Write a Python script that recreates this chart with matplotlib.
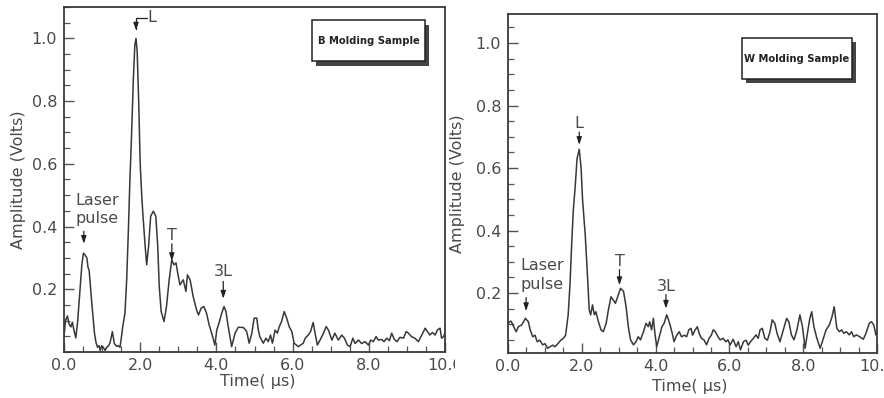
import matplotlib
matplotlib.use("Agg")
import matplotlib.pyplot as plt
from matplotlib.patches import Rectangle
from matplotlib.ticker import MultipleLocator, FormatStrFormatter

# ---------------- data ----------------
b_time = [0.0, 0.04, 0.09, 0.13, 0.18, 0.22, 0.26, 0.31, 0.36, 0.42, 0.47, 0.51, 0.55, 0.6, 0.63,
          0.66, 0.7, 0.73, 0.77, 0.8, 0.84, 0.88, 0.92, 0.95, 0.99, 1.03, 1.08, 1.12, 1.17, 1.21,
          1.27, 1.32, 1.38, 1.43, 1.47, 1.51, 1.54, 1.6, 1.645, 1.69, 1.73, 1.77, 1.82, 1.86, 1.89,
          1.92, 1.96, 2.0, 2.04, 2.07, 2.13, 2.17, 2.22, 2.275, 2.345, 2.41, 2.46, 2.5, 2.55, 2.625,
          2.69, 2.76, 2.83, 2.86, 2.89, 2.94, 3.0, 3.045, 3.1, 3.13, 3.2, 3.24, 3.31, 3.39, 3.48,
          3.53, 3.6, 3.67, 3.74, 3.81, 3.89, 3.96, 4.01, 4.08, 4.14, 4.2, 4.25, 4.31, 4.4, 4.49,
          4.575, 4.71, 4.795, 4.86, 4.93, 4.99, 5.06, 5.1, 5.14, 5.23, 5.3, 5.36, 5.42, 5.47, 5.54,
          5.6, 5.65, 5.71, 5.78, 5.845, 5.91, 5.98, 6.04, 6.15, 6.28, 6.33, 6.41, 6.47, 6.54, 6.59,
          6.65, 6.72, 6.81, 6.88, 6.94, 7.03, 7.11, 7.2, 7.29, 7.36, 7.44, 7.51, 7.58, 7.64, 7.73,
          7.81, 7.9, 7.99, 8.05, 8.12, 8.19, 8.25, 8.34, 8.4, 8.47, 8.54, 8.6, 8.67, 8.74, 8.82,
          8.91, 8.98, 9.04, 9.12, 9.21, 9.3, 9.39, 9.48, 9.54, 9.6, 9.67, 9.74, 9.8, 9.87, 9.91,
          9.96, 10.0]
b_amp = [0.05, 0.10, 0.115, 0.09, 0.08, 0.095, 0.07, 0.045, 0.10, 0.20, 0.28, 0.315, 0.31, 0.30, 0.27,
         0.26, 0.2, 0.155, 0.1, 0.06, 0.03, 0.015, 0.02, 0.005, 0.02, 0.015, 0.005, 0.015, 0.02, 0.03,
         0.065, 0.027, 0.018, 0.02, 0.015, 0.05, 0.08, 0.124, 0.23, 0.39, 0.55, 0.68, 0.87, 0.98, 1.0,
         0.96, 0.8, 0.6, 0.5, 0.44, 0.337, 0.278, 0.337, 0.433, 0.449, 0.433, 0.337, 0.209, 0.129, 0.097,
         0.145, 0.23, 0.294, 0.285, 0.278, 0.284, 0.241, 0.214, 0.225, 0.23, 0.193, 0.246, 0.23, 0.177, 0.134,
         0.118, 0.14, 0.145, 0.124, 0.086, 0.054, 0.022, 0.07, 0.097, 0.124, 0.145, 0.129, 0.081, 0.017, 0.06,
         0.079, 0.078, 0.065, 0.028, 0.06, 0.108, 0.108, 0.07, 0.049, 0.028, 0.044, 0.033, 0.054, 0.028, 0.07,
         0.06, 0.081, 0.097, 0.129, 0.108, 0.081, 0.065, 0.028, 0.017, 0.028, 0.044, 0.054, 0.065, 0.094, 0.06,
         0.022, 0.038, 0.06, 0.081, 0.07, 0.038, 0.06, 0.038, 0.054, 0.044, 0.022, 0.017, 0.044, 0.027, 0.038,
         0.027, 0.033, 0.022, 0.038, 0.033, 0.049, 0.038, 0.04, 0.033, 0.044, 0.036, 0.06, 0.04, 0.033, 0.047,
         0.044, 0.065, 0.06, 0.049, 0.044, 0.033, 0.054, 0.076, 0.065, 0.054, 0.062, 0.054, 0.07, 0.076, 0.044,
         0.049, 0.06]

w_time = [0.0, 0.035, 0.08, 0.13, 0.22, 0.28, 0.37, 0.43, 0.47, 0.55, 0.6, 0.67, 0.73, 0.79, 0.86,
          0.94, 1.0, 1.07, 1.14, 1.21, 1.27, 1.36, 1.43, 1.5, 1.56, 1.63, 1.68, 1.73, 1.77, 1.82,
          1.87, 1.93, 1.98, 2.02, 2.09, 2.15, 2.2, 2.24, 2.29, 2.34, 2.38, 2.45, 2.52, 2.58, 2.66,
          2.72, 2.79, 2.85, 2.91, 2.99, 3.05, 3.13, 3.2, 3.26, 3.32, 3.4, 3.47, 3.53, 3.59, 3.67,
          3.74, 3.8, 3.84, 3.89, 3.94, 3.98, 4.03, 4.1, 4.17, 4.23, 4.3, 4.35, 4.39, 4.44, 4.5,
          4.57, 4.64, 4.7, 4.78, 4.84, 4.9, 4.96, 5.0, 5.07, 5.13, 5.18, 5.24, 5.31, 5.38, 5.45,
          5.51, 5.56, 5.62, 5.69, 5.75, 5.83, 5.9, 5.96, 6.02, 6.1, 6.18, 6.24, 6.3, 6.38, 6.45,
          6.51, 6.57, 6.65, 6.72, 6.78, 6.83, 6.89, 6.96, 7.03, 7.1, 7.16, 7.23, 7.29, 7.37, 7.46,
          7.55, 7.61, 7.68, 7.75, 7.83, 7.91, 7.98, 8.05, 8.12, 8.18, 8.23, 8.29, 8.37, 8.46, 8.53,
          8.62, 8.71, 8.78, 8.84, 8.91, 8.98, 9.04, 9.1, 9.17, 9.25, 9.31, 9.37, 9.44, 9.53, 9.63,
          9.7, 9.79, 9.85, 9.91, 9.97, 10.0]
w_amp = [0.10, 0.108, 0.11, 0.098, 0.076, 0.092, 0.098, 0.11, 0.119, 0.108, 0.082, 0.06, 0.065, 0.044, 0.049,
         0.034, 0.038, 0.023, 0.028, 0.033, 0.028, 0.039, 0.049, 0.055, 0.065, 0.13, 0.23, 0.37, 0.466, 0.54,
         0.63, 0.66, 0.6, 0.498, 0.39, 0.263, 0.146, 0.13, 0.162, 0.13, 0.14, 0.108, 0.082, 0.076, 0.103,
         0.146, 0.188, 0.178, 0.167, 0.194, 0.215, 0.205, 0.156, 0.092, 0.05, 0.034, 0.045, 0.06, 0.05, 0.076,
         0.103, 0.092, 0.108, 0.082, 0.119, 0.071, 0.028, 0.06, 0.092, 0.103, 0.13, 0.114, 0.098, 0.076, 0.044,
         0.065, 0.076, 0.06, 0.065, 0.06, 0.082, 0.087, 0.065, 0.082, 0.092, 0.071, 0.055, 0.05, 0.034, 0.055,
         0.065, 0.082, 0.076, 0.06, 0.05, 0.055, 0.044, 0.05, 0.034, 0.052, 0.028, 0.044, 0.018, 0.044, 0.049,
         0.033, 0.044, 0.055, 0.066, 0.055, 0.082, 0.087, 0.055, 0.049, 0.076, 0.114, 0.103, 0.071, 0.044, 0.082,
         0.119, 0.108, 0.066, 0.05, 0.082, 0.13, 0.092, 0.023, 0.076, 0.119, 0.14, 0.092, 0.055, 0.023, 0.049,
         0.082, 0.098, 0.124, 0.156, 0.087, 0.076, 0.082, 0.071, 0.076, 0.066, 0.076, 0.06, 0.066, 0.06, 0.052,
         0.071, 0.103, 0.108, 0.098, 0.066, 0.07]

x_ticks = [0, 2, 4, 6, 8, 10]
y_ticks = [0.2, 0.4, 0.6, 0.8, 1.0]
titles = ["B Molding Sample", "W Molding Sample"]

# annotation anchors (data units): (label, text_xy, arrow_tip, arrow_tail)
b_notes = [("Laser\npulse", (0.29, 0.454), (0.52, 0.345), (0.52, 0.385)),
           ("T", (2.83, 0.372), (2.83, 0.29), (2.83, 0.345)),
           ("3L", (4.18, 0.258), (4.18, 0.17), (4.18, 0.225))]
w_notes = [("Laser\npulse", (0.33, 0.258), (0.49, 0.142), (0.49, 0.185)),
           ("T", (3.02, 0.302), (3.02, 0.225), (3.02, 0.275)),
           ("3L", (4.28, 0.222), (4.28, 0.15), (4.28, 0.195)),
           ("L", (1.93, 0.742), (1.93, 0.674), (1.93, 0.715))]

# ---------------- style ----------------
plt.rcParams['font.family'] = ['DejaVu Sans']
TXT = "#4a4a4a"
LINE = "#383838"

fig = plt.figure(figsize=(8.84, 3.98), dpi=100)
fig.patch.set_facecolor("white")

axL = fig.add_axes([0.0724, 0.1156, 0.4310, 0.8668], zorder=0)
axR = fig.add_axes([0.5747, 0.1131, 0.4174, 0.8518], zorder=2)

# white mask that clips the left panel's "10.0" like the reference
fig.patches.append(Rectangle((455 / 884, 0), 1 - 455 / 884, 1, transform=fig.transFigure,
                             facecolor="white", edgecolor="none", zorder=1))


def style(ax, ylim, title, box, ylab_x, xlab_xy):
    ax.set_xlim(0, 10)
    ax.set_ylim(*ylim)
    ax.set_xticks(x_ticks)
    ax.set_yticks(y_ticks)
    ax.xaxis.set_minor_locator(MultipleLocator(0.5))
    ax.yaxis.set_minor_locator(MultipleLocator(0.05))
    ax.xaxis.set_major_formatter(FormatStrFormatter("%.1f"))
    ax.yaxis.set_major_formatter(FormatStrFormatter("%.1f"))
    ax.tick_params(which="both", direction="in", colors="#555555", labelcolor=TXT,
                   labelsize=11.5, top=False, right=False)
    ax.tick_params(which="major", length=7, width=1.0)
    ax.tick_params(which="minor", length=4.5, width=0.9)
    ax.tick_params(axis="y", pad=5)
    ax.tick_params(axis="x", pad=4)
    for s in ax.spines.values():
        s.set_color("#3a3a3a")
        s.set_linewidth(1.3)
    ax.set_ylabel("Amplitude (Volts)", fontsize=11.5, color=TXT)
    ax.yaxis.set_label_coords(ylab_x, 0.5)
    ax.set_xlabel("Time( μs)", fontsize=11.5, color=TXT)
    ax.xaxis.set_label_coords(*xlab_xy)
    x0, y0, x1, y1 = box
    dx, dy = 0.011, 0.013
    ax.add_patch(Rectangle((x0 + dx, y0 - dy), x1 - x0, y1 - y0, transform=ax.transAxes,
                           facecolor="#444444", edgecolor="none", zorder=4))
    ax.add_patch(Rectangle((x0, y0), x1 - x0, y1 - y0, transform=ax.transAxes,
                           facecolor="white", edgecolor="#222222", linewidth=1.1, zorder=5))
    ax.text((x0 + x1) / 2, (y0 + y1) / 2, title, transform=ax.transAxes, ha="center",
            va="center", fontsize=7.2, fontweight="bold", color="#222222", zorder=6)


def notes(ax, items):
    for label, txy, tip, tail in items:
        ax.text(txy[0], txy[1], label, fontsize=11.5, color=TXT, va="center",
                ha="left" if "\n" in label else "center", linespacing=1.3)
        ax.annotate("", xy=tip, xytext=tail,
                    arrowprops=dict(arrowstyle="-|>,head_length=0.45,head_width=0.15",
                                    color="#222222", lw=0.9, shrinkA=0, shrinkB=0))


axL.plot(b_time, b_amp, color=LINE, lw=1.1)
axR.plot(w_time, w_amp, color=LINE, lw=1.1)

style(axL, (0.0, 1.1), titles[0], (0.651, 0.843, 0.948, 0.962), -0.10, (0.509, -0.064))
style(axR, (0.008, 1.093), titles[1], (0.634, 0.808, 0.932, 0.929), -0.117, (0.493, -0.077))

notes(axL, b_notes)
notes(axR, w_notes)

# bracket-style "L" marker on the left panel
axL.text(2.2, 1.066, "L", fontsize=11.5, color=TXT, va="center", ha="left")
axL.annotate("", xy=(1.89, 1.025), xytext=(2.19, 1.066),
             arrowprops=dict(arrowstyle="-|>,head_length=0.45,head_width=0.15",
                             connectionstyle="angle,angleA=0,angleB=90,rad=0",
                             color="#222222", lw=0.9, shrinkA=0, shrinkB=0))

fig.savefig("out.png", dpi=100)
